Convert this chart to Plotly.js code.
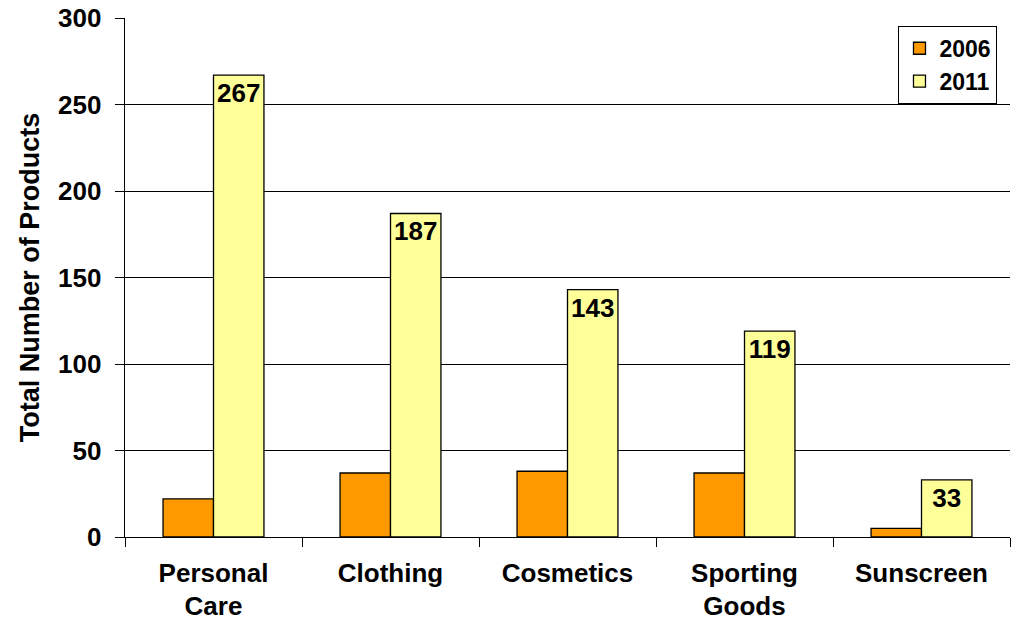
<!DOCTYPE html>
<html>
<head>
<meta charset="utf-8">
<script src="https://cdn.plot.ly/plotly-3.0.1.min.js"></script>
<style>html,body{margin:0;padding:0;background:#fff;}#chart{width:1014px;height:625px;}</style>
</head>
<body>
<div id="chart"></div>
<script>
const categories = ["Personal<br>Care", "Clothing", "Cosmetics", "Sporting<br>Goods", "Sunscreen"];
const series2006 = [22, 37, 38, 37, 5];
const series2011 = [267, 187, 143, 119, 33];
const seriesNames = ["2006", "2011"];
const yTicks = [0, 50, 100, 150, 200, 250, 300];

const FONT = "Arial, 'Liberation Sans', Helvetica, sans-serif";

const traces = [
  {
    type: "bar", name: seriesNames[0], x: categories, y: series2006,
    marker: {color: "#FF9900", line: {color: "#000", width: 1.3}},
    hoverinfo: "skip"
  },
  {
    type: "bar", name: seriesNames[1], x: categories, y: series2011,
    marker: {color: "#FFFF99", line: {color: "#000", width: 1.3}},
    text: series2011.map(String), textposition: "inside", insidetextanchor: "end",
    constraintext: "none",
    textfont: {family: FONT, size: 26, color: "#000", weight: "bold"},
    hoverinfo: "skip"
  }
];

const layout = {
  width: 1014, height: 625,
  margin: {l: 125, r: 4, t: 18, b: 88},
  paper_bgcolor: "#fff", plot_bgcolor: "#fff",
  barmode: "group", bargap: 0.43, bargroupgap: 0,
  font: {family: FONT, color: "#000", weight: "bold"},
  showlegend: true,
  legend: {
    x: 0.874, y: 0.985, xanchor: "left", yanchor: "top",
    bordercolor: "#000", borderwidth: 1, bgcolor: "#fff",
    font: {family: FONT, size: 23, color: "#000", weight: "bold"},
    itemwidth: 30,
    tracegroupgap: 0
  },
  xaxis: {
    type: "category",
    tickson: "boundaries", ticks: "outside", ticklen: 9, tickcolor: "#000", tickwidth: 1,
    showline: true, linecolor: "#000", linewidth: 1.3,
    showgrid: false, zeroline: false,
    tickfont: {family: FONT, size: 26, color: "#000", weight: "bold"},
    ticklabelstandoff: 12
  },
  yaxis: {
    range: [0, 300], tickvals: yTicks, ticktext: yTicks.map(String),
    ticks: "outside", ticklen: 9, tickcolor: "#000", tickwidth: 1,
    showline: true, linecolor: "#000", linewidth: 1.3,
    showgrid: true, gridcolor: "#000", gridwidth: 1,
    zeroline: false,
    tickfont: {family: FONT, size: 26, color: "#000", weight: "bold"},
    ticklabelstandoff: 8,
    title: {text: "Total Number of Products", font: {family: FONT, size: 27, color: "#000", weight: "bold"}, standoff: 10}
  }
};

Plotly.newPlot("chart", traces, layout, {staticPlot: true, displayModeBar: false});
</script>
</body>
</html>
